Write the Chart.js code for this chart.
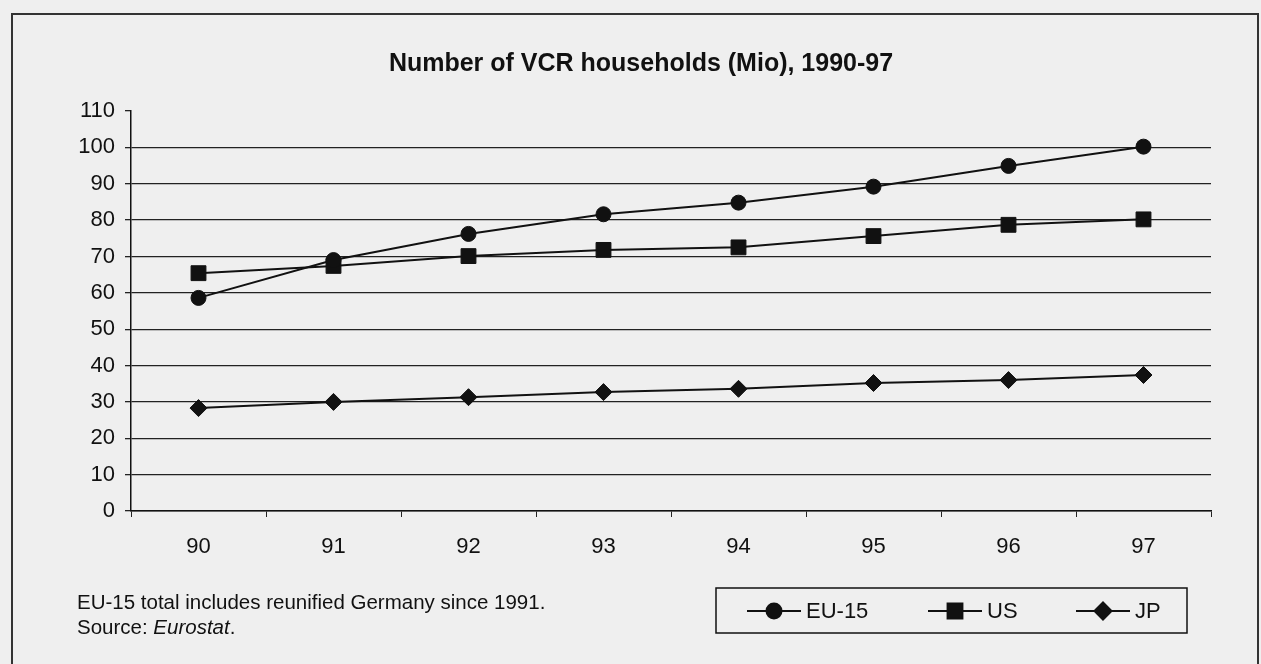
<!DOCTYPE html>
<html>
<head>
<meta charset="utf-8">
<script src="https://cdn.jsdelivr.net/npm/chart.js@4.4.1/dist/chart.umd.min.js"></script>
<style>
  html, body { margin: 0; padding: 0; background: #efefef; }
  #wrap { position: relative; width: 1261px; height: 664px; }
  #note {
    position: absolute; left: 77px; top: 589px;
    font-family: "Liberation Sans", Arial, sans-serif;
    font-size: 20.5px; line-height: 25px; color: #111;
  }
</style>
</head>
<body>
<div id="wrap">
  <canvas id="myChart" width="1261" height="664"></canvas>
  <div id="note">EU-15 total includes reunified Germany since 1991.<br>Source: <i>Eurostat</i>.</div>
</div>
<script>
// values (million households)
var years = ['90', '91', '92', '93', '94', '95', '96', '97'];
var eu15 = [58.6, 69.0, 76.2, 81.6, 84.8, 89.2, 94.9, 100.2];
var us = [65.4, 67.4, 70.1, 71.8, 72.5, 75.6, 78.7, 80.2];
var jp = [28.3, 30.0, 31.3, 32.7, 33.6, 35.2, 36.0, 37.4];
var yTicks = [0, 10, 20, 30, 40, 50, 60, 70, 80, 90, 100, 110];

var FONT = '"Liberation Sans", Arial, sans-serif';

// frame round the whole picture
var framePlugin = {
    id: 'frame',
    beforeDraw: function(chart) {
        var ctx = chart.ctx;
        ctx.save();
        ctx.strokeStyle = '#333';
        ctx.lineWidth = 2;
        ctx.strokeRect(12, 14, 1246, 670);
        ctx.restore();
    }
};

// boxed legend, bottom right
var legendPlugin = {
    id: 'boxLegend',
    afterDraw: function(chart) {
        var ctx = chart.ctx;
        var starts = [747, 928, 1076];
        var cy = 611;
        ctx.save();
        ctx.strokeStyle = '#111';
        ctx.lineWidth = 1.5;
        ctx.strokeRect(716, 588, 471, 45);
        chart.data.datasets.forEach(function(ds, i) {
            var lx = starts[i];
            ctx.strokeStyle = '#111';
            ctx.lineWidth = 2;
            ctx.beginPath();
            ctx.moveTo(lx, cy);
            ctx.lineTo(lx + 54, cy);
            ctx.stroke();
            ctx.fillStyle = '#111';
            Chart.helpers.drawPoint(ctx, {
                pointStyle: ds.pointStyle,
                radius: ds.pointRadius,
                borderWidth: 1,
                rotation: 0
            }, lx + 27, cy);
            ctx.fillStyle = '#111';
            ctx.font = '22px ' + FONT;
            ctx.textBaseline = 'middle';
            ctx.textAlign = 'left';
            ctx.fillText(ds.label, lx + 59, cy + 1);
        });
        ctx.restore();
    }
};

function series(label, data, style, r) {
    return {
        label: label,
        data: data,
        borderColor: '#111',
        borderWidth: 2,
        backgroundColor: '#111',
        pointStyle: style,
        pointRadius: r,
        pointBorderWidth: 1,
        pointBackgroundColor: '#111',
        pointBorderColor: '#111',
        tension: 0
    };
}

const ctx = document.getElementById('myChart').getContext('2d');
const myChart = new Chart(ctx, {
    type: 'line',
    data: {
        labels: years,
        datasets: [
            series('EU-15', eu15, 'circle', 7.5),
            series('US', us, 'rect', 10.5),
            series('JP', jp, 'rectRot', 8.5)
        ]
    },
    options: {
        responsive: false,
        animation: false,
        layout: {
            padding: { left: 71, right: 50, top: 0, bottom: 104 }
        },
        plugins: {
            legend: { display: false },
            tooltip: { enabled: false },
            title: {
                display: true,
                text: 'Number of VCR households (Mio), 1990-97',
                color: '#111',
                font: { family: FONT, size: 25, weight: 'bold' },
                padding: { top: 49, bottom: 32 }
            }
        },
        scales: {
            x: {
                offset: true,
                grid: {
                    offset: true,
                    drawOnChartArea: false,
                    drawTicks: true,
                    tickLength: 6,
                    tickColor: '#222'
                },
                border: { color: '#111', width: 1.5 },
                ticks: {
                    color: '#111',
                    padding: 17,
                    font: { family: FONT, size: 22 }
                },
                afterFit: function(scale) { scale.height = 49; }
            },
            y: {
                min: 0,
                max: 110,
                afterBuildTicks: function(scale) {
                    scale.ticks = yTicks.map(function(v) { return { value: v }; });
                },
                grid: {
                    color: function(c) {
                        return c.tick && c.tick.value === 110 ? 'rgba(0,0,0,0)' : '#222';
                    },
                    lineWidth: 1.3,
                    tickLength: 6,
                    tickColor: '#222'
                },
                border: { color: '#111', width: 1.5 },
                ticks: {
                    color: '#111',
                    padding: 10,
                    font: { family: FONT, size: 22 }
                },
                afterFit: function(scale) { scale.width = 60; }
            }
        }
    },
    plugins: [framePlugin, legendPlugin]
});
</script>
</body>
</html>
